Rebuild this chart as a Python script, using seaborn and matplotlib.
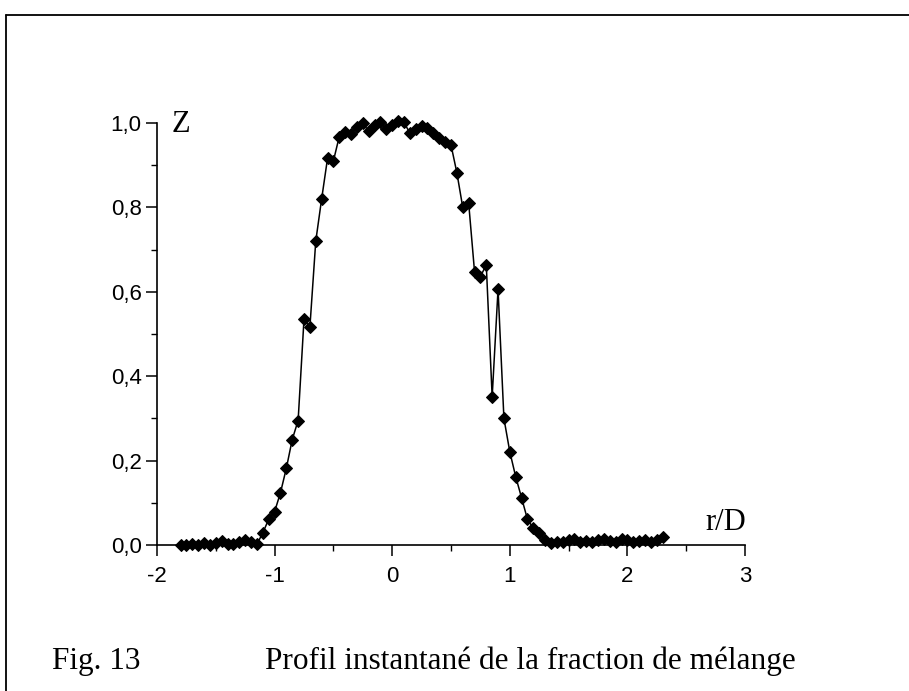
import numpy as np
import pandas as pd
import seaborn as sns
import matplotlib
matplotlib.use("Agg")
import matplotlib.pyplot as plt
from matplotlib.ticker import FixedLocator
from matplotlib.lines import Line2D

# Radial position r/D of each sample
r_over_d = [-1.80, -1.75, -1.70, -1.65, -1.60, -1.55, -1.50, -1.45, -1.40, -1.35,
            -1.30, -1.25, -1.20, -1.15, -1.10, -1.05, -1.00, -0.95, -0.90, -0.85,
            -0.80, -0.75, -0.70, -0.65, -0.60, -0.55, -0.50, -0.45, -0.40, -0.35,
            -0.30, -0.25, -0.20, -0.15, -0.10, -0.05, 0.00, 0.05, 0.10, 0.15,
            0.20, 0.25, 0.30, 0.35, 0.40, 0.45, 0.50, 0.55, 0.60, 0.65,
            0.70, 0.75, 0.80, 0.85, 0.90, 0.95, 1.00, 1.05, 1.10, 1.15,
            1.20, 1.25, 1.30, 1.35, 1.40, 1.45, 1.50, 1.55, 1.60, 1.65,
            1.70, 1.75, 1.80, 1.85, 1.90, 1.95, 2.00, 2.05, 2.10, 2.15,
            2.20, 2.25, 2.30]

# Instantaneous mixture fraction Z
z_values = [0.000, 0.000, 0.002, 0.000, 0.004, 0.000, 0.004, 0.010, 0.003, 0.002,
            0.006, 0.013, 0.008, 0.002, 0.029, 0.061, 0.079, 0.124, 0.182, 0.250,
            0.295, 0.535, 0.516, 0.720, 0.820, 0.916, 0.910, 0.968, 0.978, 0.975,
            0.990, 1.000, 0.980, 0.995, 1.002, 0.985, 0.995, 1.005, 1.002, 0.976,
            0.986, 0.993, 0.988, 0.977, 0.965, 0.954, 0.948, 0.882, 0.800, 0.811,
            0.648, 0.636, 0.664, 0.351, 0.606, 0.300, 0.221, 0.162, 0.112, 0.061,
            0.040, 0.028, 0.012, 0.005, 0.008, 0.006, 0.012, 0.014, 0.008, 0.010,
            0.006, 0.012, 0.015, 0.010, 0.008, 0.014, 0.012, 0.006, 0.010, 0.012,
            0.008, 0.012, 0.020]

x_ticks = [-2, -1, 0, 1, 2, 3]
x_tick_labels = ["-2", "-1", "0", "1", "2", "3"]
y_ticks = [0.0, 0.2, 0.4, 0.6, 0.8, 1.0]
y_tick_labels = ["0,0", "0,2", "0,4", "0,6", "0,8", "1,0"]

df = pd.DataFrame({"r/D": r_over_d, "Z": z_values})

sns.set_theme(style="ticks")
plt.rcParams["font.family"] = ["Liberation Sans", "DejaVu Sans"]

W, H = 909, 691
fig = plt.figure(figsize=(W / 100, H / 100), dpi=100)
fig.patch.set_facecolor("white")

x0, x1 = 157, 745
y0, y1 = 545, 123
ax = fig.add_axes([x0 / W, (H - y0) / H, (x1 - x0) / W, (y0 - y1) / H])
ax.set_facecolor("white")

sns.lineplot(data=df, x="r/D", y="Z", ax=ax, color="black", linewidth=1.1,
             marker="D", markersize=6.5, markeredgecolor="black",
             markerfacecolor="black", estimator=None, sort=False)
for ln in ax.lines:
    ln.set_clip_on(False)

ax.set_xlim(-2, 3)
ax.set_ylim(0, 1.0)
ax.set_xlabel("")
ax.set_ylabel("")

for side in ("top", "right"):
    ax.spines[side].set_visible(False)
for side in ("left", "bottom"):
    ax.spines[side].set_color("black")
    ax.spines[side].set_linewidth(1.2)

ax.xaxis.set_major_locator(FixedLocator(x_ticks))
ax.xaxis.set_minor_locator(FixedLocator([-1.5, -0.5, 0.5, 1.5, 2.5]))
ax.set_xticklabels(x_tick_labels)
ax.yaxis.set_major_locator(FixedLocator(y_ticks))
ax.yaxis.set_minor_locator(FixedLocator([0.1, 0.3, 0.5, 0.7, 0.9]))
ax.set_yticklabels(y_tick_labels)

ax.tick_params(axis="both", which="major", direction="out", length=8, width=1.1,
               color="black", labelsize=16, labelcolor="black")
ax.tick_params(axis="x", which="major", pad=7)
ax.tick_params(axis="y", which="major", pad=3)
ax.tick_params(axis="both", which="minor", direction="out", length=4.5, width=1.0,
               color="black")

serif = ["Liberation Serif", "DejaVu Serif"]
fig.text(172 / W, 1 - 124 / H, "Z", family=serif, fontsize=22, ha="left",
         va="center", color="black")
fig.text(746 / W, 1 - 522 / H, "r/D", family=serif, fontsize=22, ha="right",
         va="center", color="black")

fig.text(52 / W, 1 - 661 / H, "Fig. 13", family=serif, fontsize=22.5, ha="left",
         va="center", color="black")
fig.text(265 / W, 1 - 661 / H, "Profil instantané de la fraction de mélange",
         family=serif, fontsize=22.5, ha="left", va="center", color="black")

# page frame along the top and left edges
fig.add_artist(Line2D([6 / W, 1.0], [1 - 15 / H, 1 - 15 / H],
                      transform=fig.transFigure, color="black", linewidth=1.3))
fig.add_artist(Line2D([6 / W, 6 / W], [0.0, 1 - 15 / H],
                      transform=fig.transFigure, color="black", linewidth=1.3))

fig.savefig("out.png", dpi=100, facecolor="white")
